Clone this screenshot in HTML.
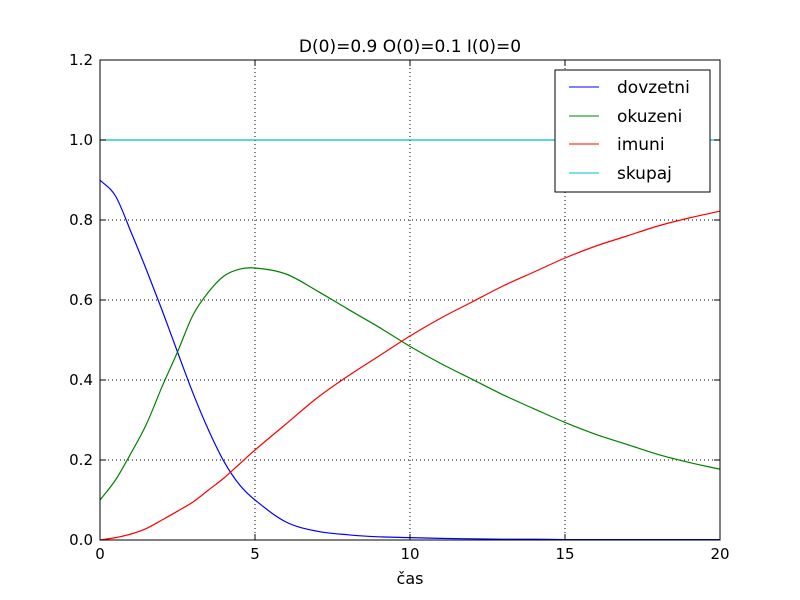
<!DOCTYPE html>
<html><head><meta charset="utf-8"><style>body{margin:0;background:#fff}svg{display:block;font-family:"DejaVu Sans","Liberation Sans",sans-serif}</style></head>
<body>
<svg id="chart" width="800" height="600" viewBox="0 0 800 600" xmlns="http://www.w3.org/2000/svg">
<rect width="800" height="600" fill="#fff"/>
<g id="grid"></g>
<g id="series"></g>
<rect x="100" y="60" width="620" height="480" fill="none" stroke="#000" stroke-width="1"/>
<g id="ticks"></g>
<text x="410" y="52" font-size="17" text-anchor="middle">D(0)=0.9 O(0)=0.1 I(0)=0</text>
<text x="410" y="584" font-size="16" text-anchor="middle">čas</text>
<g>
<rect x="555" y="70" width="155" height="122" fill="#fff" stroke="#000" stroke-width="1"/>
<g><line x1="569" x2="599" y1="87" y2="87" stroke="#0000ff"/><text x="617" y="93" font-size="17">dovzetni</text></g>
<g><line x1="569" x2="599" y1="116" y2="116" stroke="#008000"/><text x="617" y="122" font-size="17">okuzeni</text></g>
<g><line x1="569" x2="599" y1="144" y2="144" stroke="#ff0000"/><text x="617" y="150" font-size="17">imuni</text></g>
<g><line x1="569" x2="599" y1="173" y2="173" stroke="#00bfbf"/><text x="617" y="179" font-size="17">skupaj</text></g>
</g>
</svg>
<script>
const times=[0,0.5,1,1.5,2,2.5,3,3.5,4,4.5,5,6,7,8,9,10,11,12,13,14,15,16,17,18,19,20];
const dovzetni=[0.9,0.86,0.77,0.675,0.575,0.47,0.367,0.275,0.196,0.138,0.1,0.045,0.022,0.013,0.008,0.006,0.004,0.003,0.002,0.002,0.001,0.001,0.001,0.001,0.001,0.001];
const okuzeni=[0.1,0.15,0.217,0.29,0.383,0.47,0.5625,0.62,0.66,0.677,0.68,0.665,0.623,0.577,0.532,0.484,0.441,0.402,0.363,0.328,0.294,0.264,0.239,0.214,0.194,0.177];
const imuni=[0,0.006,0.015,0.029,0.05,0.072,0.095,0.125,0.155,0.19,0.225,0.29,0.355,0.41,0.46,0.51,0.555,0.595,0.635,0.67,0.705,0.735,0.76,0.785,0.805,0.822];
const skupaj=[1,1,1,1,1,1,1,1,1,1,1,1,1,1,1,1,1,1,1,1,1,1,1,1,1,1];
const xTicks=[0,5,10,15,20];
const xTickLabels=["0","5","10","15","20"];
const yTicks=[0,0.2,0.4,0.6,0.8,1.0,1.2];
const yTickLabels=["0.0","0.2","0.4","0.6","0.8","1.0","1.2"];
const NS="http://www.w3.org/2000/svg";
const X=t=>100+t*(620/20);
const Y=v=>540-v*400;
function mk(tag,attrs,parent){const e=document.createElementNS(NS,tag);for(const k in attrs)e.setAttribute(k,attrs[k]);parent.appendChild(e);return e;}
const grid=document.getElementById('grid'),ticks=document.getElementById('ticks'),series=document.getElementById('series');
xTicks.forEach((t,i)=>{
 const g=mk('line',{x1:X(t),x2:X(t),y1:60,y2:540,stroke:'#000','stroke-dasharray':'1,3','stroke-width':1},grid);
 
 
 mk('line',{x1:X(t),x2:X(t),y1:540,y2:534,stroke:'#000'},ticks);
 mk('line',{x1:X(t),x2:X(t),y1:60,y2:66,stroke:'#000'},ticks);
 const l=mk('text',{x:X(t),y:559,'font-size':15,'text-anchor':'middle'},ticks);
 l.textContent=xTickLabels[i];
 
 
});
yTicks.forEach((v,i)=>{
 const g=mk('line',{x1:100,x2:720,y1:Y(v),y2:Y(v),stroke:'#000','stroke-dasharray':'1,3','stroke-width':1},grid);
 
 
 mk('line',{x1:100,x2:106,y1:Y(v),y2:Y(v),stroke:'#000'},ticks);
 mk('line',{x1:714,x2:720,y1:Y(v),y2:Y(v),stroke:'#000'},ticks);
 const l=mk('text',{x:93,y:Y(v)+5,'font-size':15,'text-anchor':'end'},ticks);
 l.textContent=yTickLabels[i];
 
 
});
function path(vals){
 const p=times.map((t,i)=>[X(t),Y(vals[i])]);
 let d='M'+p[0][0]+','+p[0][1];
 for(let i=0;i<p.length-1;i++){
  const p0=p[Math.max(0,i-1)],p1=p[i],p2=p[i+1],p3=p[Math.min(p.length-1,i+2)];
  const h=p2[0]-p1[0];
  const s1=(p2[1]-p0[1])/(p2[0]-p0[0]||1), s2=(p3[1]-p1[1])/(p3[0]-p1[0]||1);
  const c1=[p1[0]+h/3,p1[1]+s1*h/3];
  const c2=[p2[0]-h/3,p2[1]-s2*h/3];
  d+=' C'+c1+' '+c2+' '+p2;
 }
 return d;
}
[[dovzetni,'#0000ff','dovzetni-line'],[okuzeni,'#008000','okuzeni-line'],[imuni,'#ff0000','imuni-line'],[skupaj,'#00bfbf','skupaj-line']].forEach(s=>{
 const e=mk('path',{d:path(s[0]),fill:'none',stroke:s[1],'stroke-width':1.2},series);
 
 
});
</script>
</body></html>
